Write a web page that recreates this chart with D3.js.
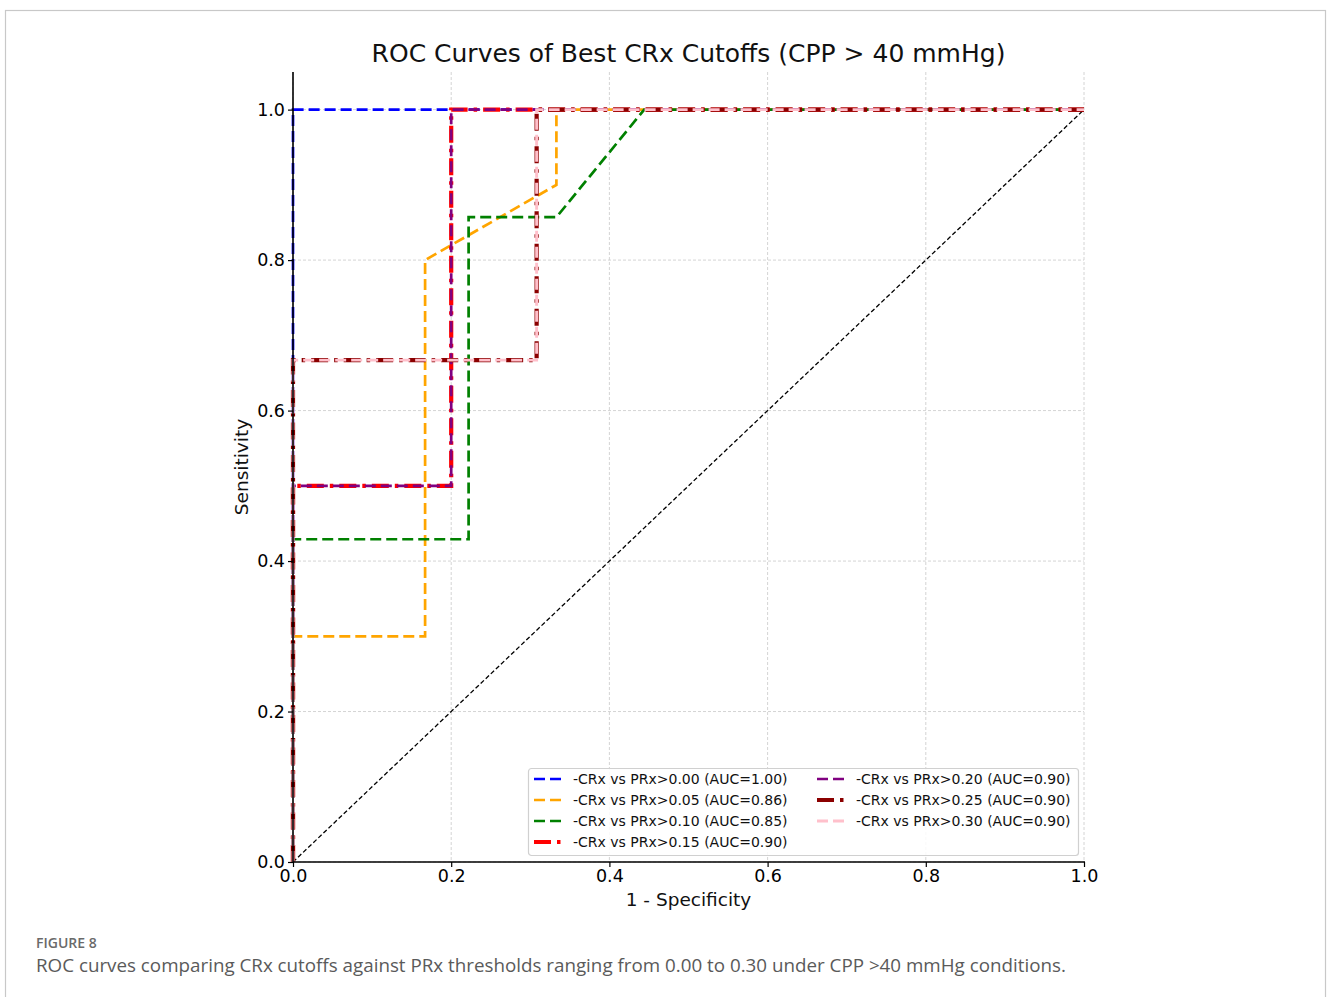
<!DOCTYPE html>
<html>
<head>
<meta charset="utf-8">
<script src="https://cdn.jsdelivr.net/npm/d3@7"></script>
<style>
  html, body { margin: 0; padding: 0; background: #fff; }
  svg { display: block; }
</style>
</head>
<body>
<svg id="chart" width="1328" height="997"></svg>
<script>
// ROC curve points (false positive rate, true positive rate) for each PRx threshold
const thresholds = ["0.00", "0.05", "0.10", "0.15", "0.20", "0.25", "0.30"];
const aucs = [1.00, 0.86, 0.85, 0.90, 0.90, 0.90, 0.90];

const fpr000 = [0, 0, 1];
const tpr000 = [0, 1, 1];
const fpr005 = [0, 0, 0.167, 0.167, 0.333, 0.333, 1];
const tpr005 = [0, 0.3, 0.3, 0.8, 0.9, 1, 1];
const fpr010 = [0, 0, 0.222, 0.222, 0.333, 0.444, 1];
const tpr010 = [0, 0.429, 0.429, 0.857, 0.857, 1, 1];
const fpr015 = [0, 0, 0.2, 0.2, 1];
const tpr015 = [0, 0.5, 0.5, 1, 1];
const fpr020 = [0, 0, 0.2, 0.2, 1];
const tpr020 = [0, 0.5, 0.5, 1, 1];
const fpr025 = [0, 0, 0.308, 0.308, 1];
const tpr025 = [0, 0.667, 0.667, 1, 1];
const fpr030 = [0, 0, 0.308, 0.308, 1];
const tpr030 = [0, 0.667, 0.667, 1, 1];

const xTicks = [0.0, 0.2, 0.4, 0.6, 0.8, 1.0];
const yTicks = [0.0, 0.2, 0.4, 0.6, 0.8, 1.0];

const fprs = [fpr000, fpr005, fpr010, fpr015, fpr020, fpr025, fpr030];
const tprs = [tpr000, tpr005, tpr010, tpr015, tpr020, tpr025, tpr030];

// line styles per series
const styles = [
  { color: "#0000ff", width: 2.7, dash: "11,5" },
  { color: "#ffa500", width: 2.7, dash: "11,5" },
  { color: "#008000", width: 2.7, dash: "11,5" },
  { color: "#ff0000", width: 4.2, dash: "17,6,3.5,6" },
  { color: "#800080", width: 2.7, dash: "11,5" },
  { color: "#8b0000", width: 4.2, dash: "17,6,3.5,6" },
  { color: "#ffc0cb", width: 2.9, dash: "11,5" }
];

const series = thresholds.map((t, i) => ({
  label: `-CRx vs PRx>${t} (AUC=${aucs[i].toFixed(2)})`,
  points: fprs[i].map((f, j) => [f, tprs[i][j]]),
  style: styles[i]
}));

const svg = d3.select("#chart");
const mplFont = "'DejaVu Sans', sans-serif";

// outer figure frame
svg.append("rect")
  .attr("x", 5.5).attr("y", 10.5)
  .attr("width", 1320).attr("height", 1000)
  .attr("fill", "none").attr("stroke", "#c8c8c8").attr("stroke-width", 1.2);

const plot = { left: 293, right: 1084, top: 72, bottom: 862 };
const x = d3.scaleLinear().domain([0, 1]).range([plot.left, plot.right]);
const y = d3.scaleLinear().domain([0, 1.05]).range([plot.bottom, plot.top]);

const g = svg.append("g");

// grid
g.append("g").selectAll("line.vg").data(xTicks).join("line")
  .attr("x1", d => x(d)).attr("x2", d => x(d))
  .attr("y1", plot.top).attr("y2", plot.bottom)
  .attr("stroke", "#cfcfcf").attr("stroke-width", 0.9).attr("stroke-dasharray", "3,2");
g.append("g").selectAll("line.hg").data(yTicks).join("line")
  .attr("x1", plot.left).attr("x2", plot.right)
  .attr("y1", d => y(d)).attr("y2", d => y(d))
  .attr("stroke", "#cfcfcf").attr("stroke-width", 0.9).attr("stroke-dasharray", "3,2");

// chance diagonal
g.append("line")
  .attr("x1", x(0)).attr("y1", y(0)).attr("x2", x(1)).attr("y2", y(1))
  .attr("stroke", "#000").attr("stroke-width", 1.3).attr("stroke-dasharray", "4.5,2.5");

// ROC curves
const line = d3.line().x(d => x(d[0])).y(d => y(d[1]));
g.append("g").selectAll("path").data(series).join("path")
  .attr("d", d => line(d.points))
  .attr("fill", "none")
  .attr("stroke", d => d.style.color)
  .attr("stroke-width", d => d.style.width)
  .attr("stroke-dasharray", d => d.style.dash)
  .attr("stroke-linejoin", "miter");

// axes
const xAxis = d3.axisBottom(x).tickValues(xTicks).tickFormat(d3.format(".1f")).tickSize(5).tickPadding(3);
const yAxis = d3.axisLeft(y).tickValues(yTicks).tickFormat(d3.format(".1f")).tickSize(5).tickPadding(3);

const gx = svg.append("g").attr("transform", `translate(0,${plot.bottom})`).call(xAxis);
const gy = svg.append("g").attr("transform", `translate(${plot.left},0)`).call(yAxis);
[gx, gy].forEach(ax => {
  ax.select(".domain").attr("stroke", "#000").attr("stroke-width", 1.6);
  ax.selectAll(".tick line").attr("stroke", "#000").attr("stroke-width", 1.2);
  ax.selectAll(".tick text").attr("fill", "#000")
    .style("font-family", mplFont).style("font-size", "17.5px");
});
gx.select(".domain").attr("d", `M${plot.left},0H${plot.right + 1}`);
gy.select(".domain").attr("d", `M0,${plot.top}V${plot.bottom}`);

// titles
svg.append("text")
  .attr("x", (plot.left + plot.right) / 2).attr("y", 62)
  .attr("text-anchor", "middle")
  .style("font-family", mplFont).style("font-size", "25px").attr("fill", "#111")
  .text("ROC Curves of Best CRx Cutoffs (CPP > 40 mmHg)");
svg.append("text")
  .attr("x", (plot.left + plot.right) / 2).attr("y", 906)
  .attr("text-anchor", "middle")
  .style("font-family", mplFont).style("font-size", "18.5px").attr("fill", "#111")
  .text("1 - Specificity");
svg.append("text")
  .attr("transform", `translate(248,${(plot.top + plot.bottom) / 2}) rotate(-90)`)
  .attr("text-anchor", "middle")
  .style("font-family", mplFont).style("font-size", "18.5px").attr("fill", "#111")
  .text("Sensitivity");

// legend
const legend = svg.append("g").attr("transform", "translate(528,768)");
legend.append("rect")
  .attr("x", 0.5).attr("y", 0.5).attr("width", 550).attr("height", 87)
  .attr("rx", 3).attr("fill", "#fff").attr("fill-opacity", 0.85)
  .attr("stroke", "#d0d0d0").attr("stroke-width", 1.2);
const rows = 4;
series.forEach((s, i) => {
  const col = Math.floor(i / rows), row = i % rows;
  const lx = 6 + col * 283, ly = 11 + row * 21;
  legend.append("line")
    .attr("x1", lx).attr("x2", lx + 29).attr("y1", ly).attr("y2", ly)
    .attr("stroke", s.style.color).attr("stroke-width", s.style.width)
    .attr("stroke-dasharray", s.style.dash);
  legend.append("text")
    .attr("x", lx + 39).attr("y", ly).attr("dy", "0.35em")
    .style("font-family", mplFont).style("font-size", "14px").attr("fill", "#111")
    .text(s.label);
});

// caption
svg.append("text")
  .attr("x", 36).attr("y", 948)
  .style("font-family", "'Open Sans', sans-serif").style("font-size", "14px")
  .style("font-weight", 600).attr("fill", "#6a6a6a")
  .text("FIGURE 8");
svg.append("text")
  .attr("x", 36).attr("y", 972)
  .style("font-family", "'Open Sans', sans-serif").style("font-size", "18.8px")
  .attr("fill", "#5a5a5a")
  .text("ROC curves comparing CRx cutoffs against PRx thresholds ranging from 0.00 to 0.30 under CPP >40 mmHg conditions.");
</script>
</body>
</html>
